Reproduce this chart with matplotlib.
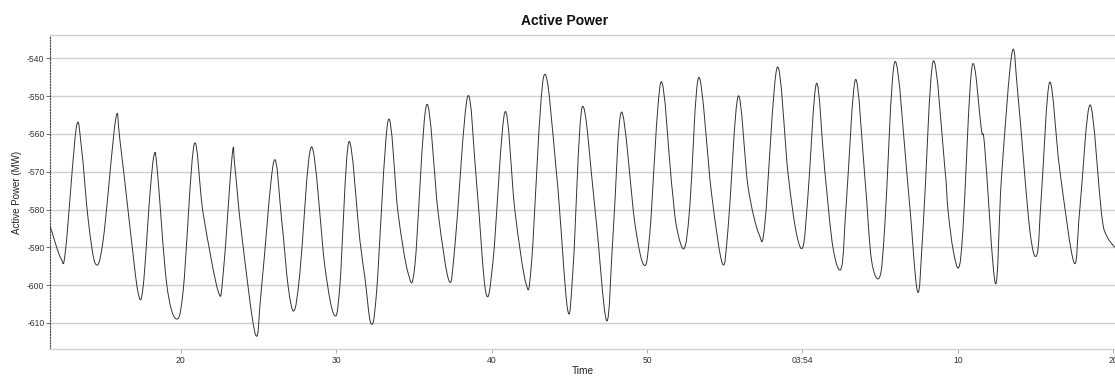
import matplotlib
matplotlib.use("Agg")
import matplotlib.pyplot as plt
from matplotlib.path import Path
from matplotlib.patches import PathPatch
import numpy as np

plt.rcParams['font.family'] = ['Liberation Sans', 'DejaVu Sans']
plt.rcParams['axes.unicode_minus'] = False

# Sample times in seconds after 03:53:00 and active power readings (MW)
time_s = [
    11.60, 12.30, 12.60, 13.29, 13.63, 14.06, 14.53, 15.02, 15.82, 16.10,
    16.74, 17.27, 17.59, 18.03, 18.30, 18.50, 19.10, 19.70, 20.17, 20.87,
    21.45, 22.42, 22.74, 23.32, 23.49, 23.92, 24.82, 25.21, 26.00, 26.50,
    26.92, 27.29, 27.67, 28.42, 29.28, 29.88, 30.24, 30.82, 31.53, 31.85,
    32.24, 32.60, 33.35, 33.99, 34.64, 35.07, 35.82, 36.57, 37.27, 37.64,
    38.46, 39.04, 39.63, 40.10, 40.86, 41.50, 42.21, 42.57, 43.36, 44.18,
    44.89, 45.25, 45.83, 46.64, 47.40, 47.82, 48.36, 49.22, 49.81, 50.18,
    50.89, 51.58, 51.90, 52.39, 52.75, 53.33, 54.15, 54.86, 55.22, 55.86,
    56.50, 57.21, 57.58, 58.37, 59.07, 59.61, 60.04, 60.36, 60.90, 61.43,
    61.97, 62.51, 62.83, 63.41, 64.01, 64.44, 64.97, 65.29, 65.94, 66.79,
    67.40, 67.76, 68.40, 69.15, 69.36, 69.69, 70.05, 70.33, 70.91, 71.51,
    71.72, 72.41, 72.80, 73.48, 73.87, 74.62, 75.09, 75.37, 75.90, 76.55,
    77.47, 77.83, 78.50, 79.23, 79.55, 80.08,
]
power_mw = [
    -584.3, -592.9, -590.7, -558.4, -563.9, -582.8, -594.4, -588.1, -556.2, -561.7,
    -584.6, -602.1, -600.4, -575.8, -565.5, -569.6, -599.5, -608.9, -601.3, -562.8,
    -581.0, -601.7, -596.9, -565.5, -568.7, -586.3, -613.1, -600.4, -567.2, -582.8,
    -600.4, -606.8, -596.9, -563.4, -595.1, -607.9, -600.4, -562.1, -588.1, -597.8,
    -610.1, -602.1, -556.4, -581.0, -596.9, -594.7, -552.3, -581.0, -598.9, -589.8,
    -550.1, -573.1, -601.9, -593.4, -554.2, -580.2, -599.5, -594.2, -544.7, -570.5,
    -606.4, -595.1, -552.9, -579.3, -609.4, -586.3, -554.2, -583.7, -594.7, -586.3,
    -546.3, -573.1, -584.6, -590.3, -579.3, -545.0, -575.8, -594.4, -584.6, -550.0,
    -574.0, -586.6, -583.7, -542.4, -570.5, -586.3, -589.7, -575.8, -546.6, -569.6,
    -590.3, -595.3, -577.5, -545.6, -571.4, -593.4, -597.8, -584.6, -540.9, -574.0,
    -601.7, -584.6, -540.8, -568.7, -580.2, -590.7, -595.3, -584.6, -542.0, -559.0,
    -563.4, -599.6, -571.4, -538.4, -550.3, -585.4, -591.8, -575.8, -546.3, -569.6,
    -594.1, -580.2, -552.3, -581.0, -586.8, -590.0,
]

y_ticks = [-540, -550, -560, -570, -580, -590, -600, -610]
x_ticks = [20, 30, 40, 50, 60, 70, 80]
x_tick_labels = ["20", "30", "40", "50", "03:54", "10", "20"]

fig = plt.figure(figsize=(11.15, 3.81), dpi=100)
ax = fig.add_axes([50 / 1115, 32 / 381, 1 - 50 / 1115, 314 / 381])

# Smooth curve through the readings (Catmull-Rom segments as cubic Beziers)
pts = np.column_stack([time_s, power_mw])
ext = np.vstack([pts[0], pts, pts[-1]])
verts = [tuple(pts[0])]
codes = [Path.MOVETO]
for i in range(1, len(ext) - 2):
    p0, p1, p2, p3 = ext[i - 1], ext[i], ext[i + 1], ext[i + 2]
    c1 = p1 + (p2 - p0) / 6.0
    c2 = p2 - (p3 - p1) / 6.0
    verts += [tuple(c1), tuple(c2), tuple(p2)]
    codes += [Path.CURVE4, Path.CURVE4, Path.CURVE4]
curve = PathPatch(Path(verts, codes), fill=False, edgecolor='#333333',
                  linewidth=0.7, transform=ax.transData, zorder=3)
ax.add_patch(curve)

ax.set_xlim(11.6, 80.1)
ax.set_ylim(-616.9, -533.8)

ax.set_yticks(y_ticks)
ax.set_yticklabels([str(v) for v in y_ticks])
ax.set_xticks(x_ticks)
ax.set_xticklabels(x_tick_labels)

ax.grid(axis='y', color='#cfcfcf', linewidth=1.0)
ax.grid(axis='x', visible=False)
ax.set_axisbelow(True)

ax.spines['right'].set_visible(False)
ax.spines['top'].set_color('#cfcfcf')
ax.spines['bottom'].set_color('#cfcfcf')
ax.spines['top'].set_linewidth(1.0)
ax.spines['bottom'].set_linewidth(1.0)
ax.spines['left'].set_color('#444444')
ax.spines['left'].set_linestyle((0, (1, 1.5)))
ax.spines['left'].set_linewidth(0.8)

ax.tick_params(axis='y', length=3, width=0.6, color='#555555', pad=1,
               labelsize=6.2, labelcolor='#333333')
ax.tick_params(axis='x', length=3, width=0.6, color='#999999', pad=2,
               labelsize=6.2, labelcolor='#333333')

ax.set_xlabel("Time", fontsize=7.3, color='#222222', labelpad=1)
ax.set_ylabel("Active Power (MW)", fontsize=7, color='#222222', labelpad=4)

fig.text(565 / 1115, 1 - 21 / 381, "Active Power", ha='center', va='center',
         fontsize=10, fontweight='bold', color='#111111')

fig.savefig("out.png", dpi=100)
